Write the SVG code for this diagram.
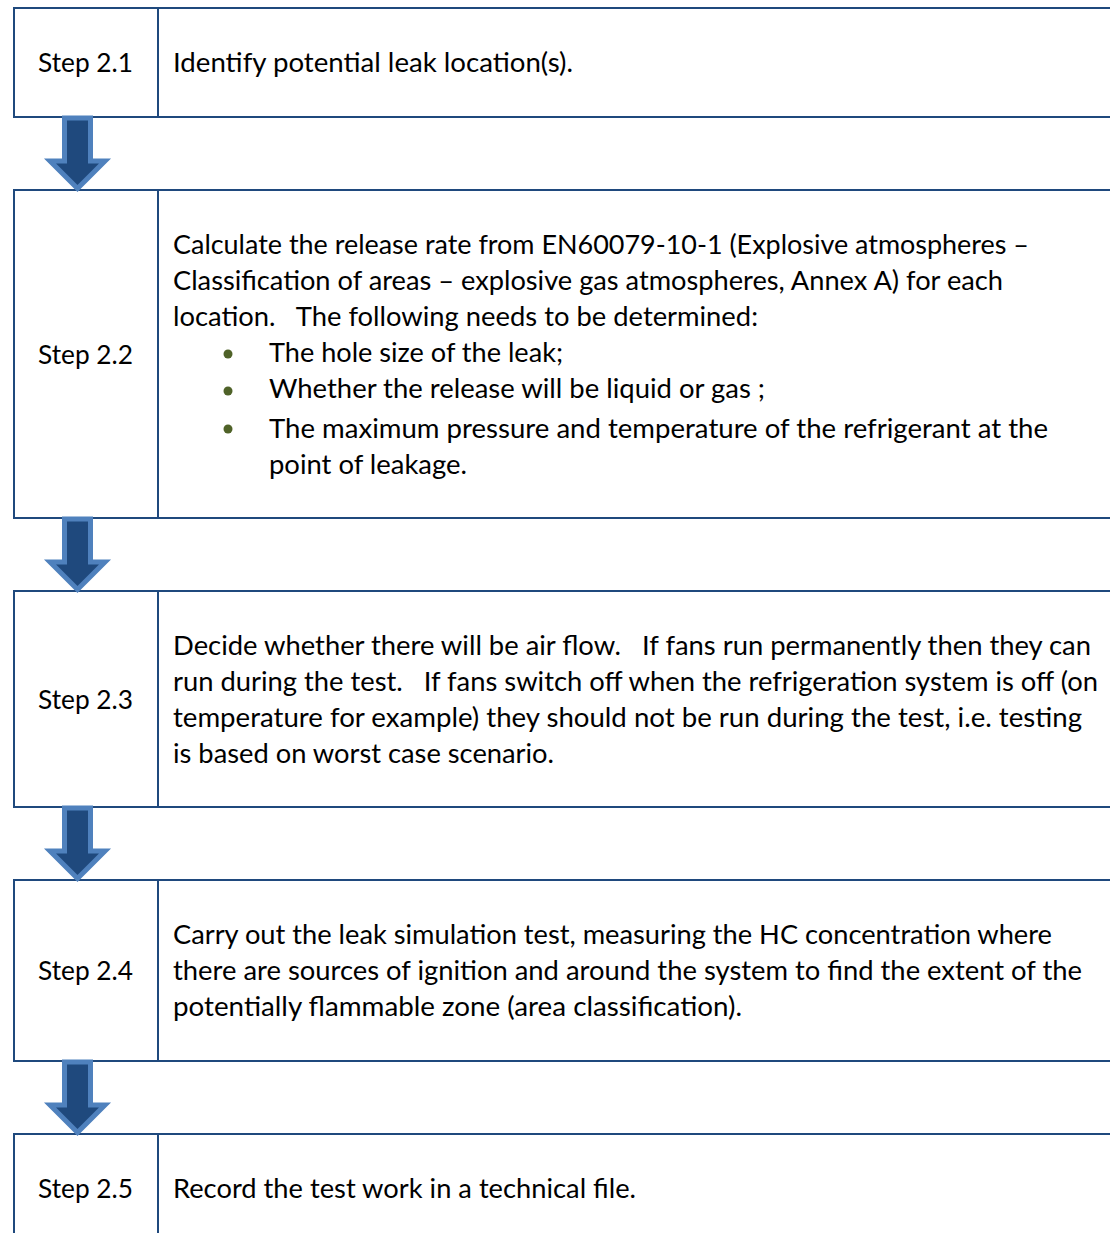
<svg xmlns="http://www.w3.org/2000/svg" width="1110" height="1233" viewBox="0 0 1110 1233">
<style>
.box{fill:#fff;stroke:#1f497d;stroke-width:2}
.div{stroke:#1f497d;stroke-width:2}
.t{font-family:Lato,"Open Sans","Liberation Sans",sans-serif;font-size:26.5px;fill:#000;white-space:pre}
.bul{fill:#4f6228}
.arr{fill:#1f497d;stroke:#4f81bd;stroke-width:5;stroke-linejoin:miter;stroke-miterlimit:10}
</style>
<defs>
<path id="arrow" d="M64.5,118 L90.5,118 L90.5,161 L105,161 L77.5,188.5 L50,161 L64.5,161 Z"/>
</defs>
<rect width="1110" height="1233" fill="#fff"/>
<g id="step-2-1">
<rect class="box" x="14" y="8" width="1200" height="109"/>
<line class="div" x1="158" y1="8" x2="158" y2="117"/>
<text class="t" x="38" y="72" textLength="95" lengthAdjust="spacingAndGlyphs">Step 2.1</text>
<text class="t" x="173" y="72" textLength="400" lengthAdjust="spacingAndGlyphs">Identify potential leak location(s).</text>
</g>
<g id="step-2-2">
<rect class="box" x="14" y="190" width="1200" height="328"/>
<line class="div" x1="158" y1="190" x2="158" y2="518"/>
<text class="t" x="38" y="364" textLength="95" lengthAdjust="spacingAndGlyphs">Step 2.2</text>
<text class="t" x="173" y="254" textLength="856" lengthAdjust="spacingAndGlyphs">Calculate the release rate from EN60079-10-1 (Explosive atmospheres –</text>
<text class="t" x="173" y="290" textLength="830" lengthAdjust="spacingAndGlyphs">Classification of areas – explosive gas atmospheres, Annex A) for each</text>
<text class="t" x="173" y="326" textLength="585" lengthAdjust="spacingAndGlyphs" xml:space="preserve">location.   The following needs to be determined:</text>
<circle class="bul" cx="228" cy="354" r="4.5"/>
<circle class="bul" cx="228" cy="391" r="4.5"/>
<circle class="bul" cx="228" cy="429" r="4.5"/>
<text class="t" x="269" y="362" textLength="294" lengthAdjust="spacingAndGlyphs">The hole size of the leak;</text>
<text class="t" x="269" y="398" textLength="496" lengthAdjust="spacingAndGlyphs">Whether the release will be liquid or gas ;</text>
<text class="t" x="269" y="438" textLength="779" lengthAdjust="spacingAndGlyphs">The maximum pressure and temperature of the refrigerant at the</text>
<text class="t" x="269" y="474" textLength="198" lengthAdjust="spacingAndGlyphs">point of leakage.</text>
</g>
<g id="step-2-3">
<rect class="box" x="14" y="591" width="1200" height="216"/>
<line class="div" x1="158" y1="591" x2="158" y2="807"/>
<text class="t" x="38" y="709" textLength="95" lengthAdjust="spacingAndGlyphs">Step 2.3</text>
<text class="t" x="173" y="655" textLength="918" lengthAdjust="spacingAndGlyphs" xml:space="preserve">Decide whether there will be air flow.   If fans run permanently then they can</text>
<text class="t" x="173" y="691" textLength="925" lengthAdjust="spacingAndGlyphs" xml:space="preserve">run during the test.   If fans switch off when the refrigeration system is off (on</text>
<text class="t" x="173" y="727" textLength="909" lengthAdjust="spacingAndGlyphs">temperature for example) they should not be run during the test, i.e. testing</text>
<text class="t" x="173" y="763" textLength="381" lengthAdjust="spacingAndGlyphs">is based on worst case scenario.</text>
</g>
<g id="step-2-4">
<rect class="box" x="14" y="880" width="1200" height="181"/>
<line class="div" x1="158" y1="880" x2="158" y2="1061"/>
<text class="t" x="38" y="980" textLength="95" lengthAdjust="spacingAndGlyphs">Step 2.4</text>
<text class="t" x="173" y="944" textLength="879" lengthAdjust="spacingAndGlyphs">Carry out the leak simulation test, measuring the HC concentration where</text>
<text class="t" x="173" y="980" textLength="909" lengthAdjust="spacingAndGlyphs">there are sources of ignition and around the system to find the extent of the</text>
<text class="t" x="173" y="1016" textLength="569" lengthAdjust="spacingAndGlyphs">potentially flammable zone (area classification).</text>
</g>
<g id="step-2-5">
<rect class="box" x="14" y="1134" width="1200" height="200"/>
<line class="div" x1="158" y1="1134" x2="158" y2="1240"/>
<text class="t" x="38" y="1198" textLength="95" lengthAdjust="spacingAndGlyphs">Step 2.5</text>
<text class="t" x="173" y="1198" textLength="463" lengthAdjust="spacingAndGlyphs">Record the test work in a technical file.</text>
</g>
<g id="connectors">
<use href="#arrow" class="arr"/>
<use href="#arrow" class="arr" transform="translate(0,401)"/>
<use href="#arrow" class="arr" transform="translate(0,690)"/>
<use href="#arrow" class="arr" transform="translate(0,944)"/>
</g>
</svg>
